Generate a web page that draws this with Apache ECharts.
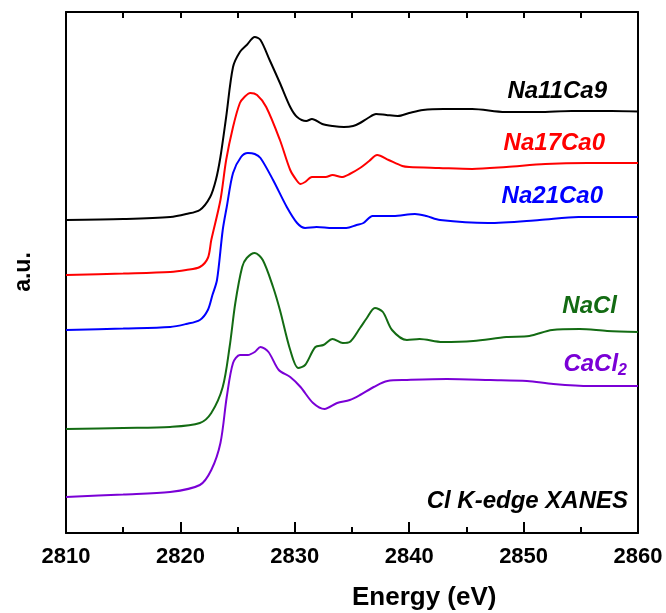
<!DOCTYPE html>
<html>
<head>
<meta charset="utf-8">
<script src="https://cdn.jsdelivr.net/npm/echarts/dist/echarts.min.js"></script>
<style>
  html, body { margin: 0; padding: 0; background: #fff; }
  #chart { width: 666px; height: 613px; }
</style>
</head>
<body>
<div id="chart"></div>
<script>
// X tick labels (eV)
const xTicks = [2810, 2820, 2830, 2840, 2850, 2860];

// Na11Ca9 (black)
const eNa11Ca9 = [2810, 2815, 2819.1, 2820.5, 2821.7, 2822.6, 2823.1, 2823.5, 2824.0, 2824.6, 2825.2, 2825.8, 2826.5, 2827.0, 2827.8, 2828.7, 2829.6, 2830.2, 2831.0, 2831.5, 2832.4, 2833.3, 2834.3, 2835.1, 2835.7, 2836.4, 2837.1, 2838.0, 2839.0, 2840.0, 2841.2, 2843.0, 2845.5, 2848.4, 2851.3, 2854.2, 2857.7, 2860];
const yNa11Ca9 = [313, 314, 316, 319, 323, 336, 353, 376, 416, 466, 481, 488, 496, 493, 473, 450, 426, 416, 412, 414, 409, 407, 406, 407, 410, 415, 419, 418, 417, 420, 423, 424, 424, 421, 421, 422, 422, 421.5];

// Na17Ca0 (red)
const eNa17Ca0 = [2810, 2815, 2819.1, 2820.5, 2821.7, 2822.4, 2822.7, 2823.5, 2824.0, 2824.6, 2825.2, 2825.6, 2826.1, 2826.7, 2827.5, 2828.7, 2829.6, 2830.2, 2830.5, 2830.9, 2831.5, 2832.7, 2833.3, 2834.1, 2834.8, 2835.7, 2836.5, 2837.2, 2838.2, 2839.4, 2840.0, 2842.6, 2845.5, 2848.5, 2851.9, 2855.6, 2860];
const yNa17Ca0 = [258, 259.5, 261, 263, 266, 275, 293, 333, 373, 406, 430, 436, 440, 438, 426, 393, 363, 352, 349, 351, 356, 356, 358, 356, 359, 365, 372, 378, 373, 367, 366, 365, 364, 366, 369, 370, 370];

// Na21Ca0 (blue)
const eNa21Ca0 = [2810, 2815, 2819.1, 2820.5, 2821.7, 2822.4, 2822.8, 2823.2, 2823.7, 2824.05, 2824.6, 2825.3, 2825.9, 2826.5, 2827.0, 2828.1, 2829.3, 2830.2, 2830.9, 2831.9, 2833.3, 2834.5, 2835.4, 2836.0, 2836.8, 2837.4, 2838.6, 2840.5, 2841.5, 2842.7, 2846.9, 2851.4, 2854.8, 2860];
const yNa21Ca0 = [203, 204.5, 206, 209, 213, 223, 238, 253, 303, 326, 360, 376, 380, 379, 375, 353, 326, 310, 305, 306, 305, 305, 308, 310, 317, 317, 317, 319, 317, 313, 310, 313, 316, 316];

// NaCl (green)
const eNaCl = [2810, 2815, 2819.1, 2821.7, 2822.7, 2823.7, 2824.3, 2824.8, 2825.4, 2825.8, 2826.5, 2827.2, 2828.1, 2828.7, 2829.6, 2830.3, 2830.9, 2831.8, 2832.5, 2833.3, 2834.2, 2834.8, 2835.7, 2836.3, 2837.0, 2837.7, 2838.5, 2839.8, 2840.9, 2842.9, 2845.6, 2848.5, 2850.5, 2852.5, 2854.9, 2857.3, 2860];
const yNaCl = [104, 105, 106, 110, 120, 146, 186, 230, 266, 275, 280, 273, 246, 223, 183, 165, 168, 186, 188, 194, 190, 191, 205, 215, 225, 221, 203, 193, 194, 191, 192, 196, 197, 203, 204, 202, 201];

// CaCl2 (purple)
const eCaCl2 = [2810, 2815, 2819.1, 2821.7, 2822.7, 2823.5, 2824.05, 2824.6, 2825.2, 2825.9, 2826.5, 2827.0, 2827.7, 2828.6, 2829.6, 2830.5, 2831.6, 2832.6, 2833.7, 2834.8, 2835.7, 2836.9, 2838.1, 2839.8, 2843.3, 2847.1, 2850.3, 2852.6, 2855.8, 2860];
const yCaCl2 = [36, 38.5, 41, 48, 63, 90, 136, 170, 178, 178, 181, 186, 181, 163, 156, 146, 130, 124, 130, 133, 138, 146, 152, 153, 154, 153, 152, 149, 147, 147];

const seriesNames = ['Na11Ca9', 'Na17Ca0', 'Na21Ca0', 'NaCl', 'CaCl2'];
const seriesColors = ['#000000', '#ff0000', '#0000ff', '#136b13', '#7a00d6'];
const seriesE = [eNa11Ca9, eNa17Ca0, eNa21Ca0, eNaCl, eCaCl2];
const seriesY = [yNa11Ca9, yNa17Ca0, yNa21Ca0, yNaCl, yCaCl2];

const FONT = '"Liberation Sans", Arial, sans-serif';

const chart = echarts.init(document.getElementById('chart'), null, { renderer: 'canvas' });

const series = seriesNames.map((n, i) => ({
  name: n,
  type: 'line',
  xAxisIndex: 0,
  yAxisIndex: 0,
  showSymbol: false,
  smooth: 0.3,
  lineStyle: { color: seriesColors[i], width: 2 },
  itemStyle: { color: seriesColors[i] },
  data: seriesE[i].map((e, k) => [e, seriesY[i][k]])
}));

const labelStyle = (txt, color, right, cy) => ({
  type: 'text',
  right: 666 - right,
  top: cy - 14,
  style: {
    text: txt,
    fill: color,
    font: 'italic bold 24px ' + FONT,
    textAlign: 'right'
  }
});

const option = {
  animation: false,
  backgroundColor: '#ffffff',
  grid: { left: 66, right: 28, top: 12, bottom: 80, containLabel: false },
  xAxis: [
    {
      type: 'value', min: 2810, max: 2860, interval: 10,
      position: 'bottom',
      axisLine: { show: true, onZero: false, lineStyle: { color: '#000', width: 2 } },
      axisTick: { show: true, inside: true, length: 11, lineStyle: { color: '#000', width: 2 } },
      minorTick: { show: true, splitNumber: 2, length: 6, lineStyle: { color: '#000', width: 2 } },
      axisLabel: {
        show: true, margin: 13, color: '#000',
        fontFamily: FONT, fontWeight: 'bold', fontSize: 22,
        formatter: v => (xTicks.indexOf(v) >= 0 ? String(v) : '')
      },
      splitLine: { show: false }
    },
    {
      type: 'value', min: 2810, max: 2860, interval: 5,
      position: 'top',
      axisLine: { show: true, onZero: false, lineStyle: { color: '#000', width: 2 } },
      axisTick: { show: true, inside: true, length: 6, lineStyle: { color: '#000', width: 2 } },
      axisLabel: { show: false },
      splitLine: { show: false }
    }
  ],
  yAxis: [
    {
      type: 'value', min: 0, max: 521,
      position: 'left',
      axisLine: { show: true, onZero: false, lineStyle: { color: '#000', width: 2 } },
      axisTick: { show: false },
      axisLabel: { show: false },
      splitLine: { show: false }
    },
    {
      type: 'value', min: 0, max: 521,
      position: 'right',
      axisLine: { show: true, onZero: false, lineStyle: { color: '#000', width: 2 } },
      axisTick: { show: false },
      axisLabel: { show: false },
      splitLine: { show: false }
    }
  ],
  series: series,
  graphic: [
    labelStyle('Na11Ca9', seriesColors[0], 607, 93),
    labelStyle('Na17Ca0', seriesColors[1], 605, 145),
    labelStyle('Na21Ca0', seriesColors[2], 603, 198),
    labelStyle('NaCl', seriesColors[3], 617, 308),
    {
      type: 'text',
      right: 666 - 627,
      top: 366 - 14,
      style: {
        text: '{m|CaCl}{s|2}',
        rich: {
          m: { font: 'italic bold 24px ' + FONT, fill: seriesColors[4], color: seriesColors[4] },
          s: { font: 'italic bold 16px ' + FONT, fill: seriesColors[4], color: seriesColors[4], padding: [14, 0, 0, 0] }
        },
        textAlign: 'right'
      }
    },
    labelStyle('Cl K-edge XANES', '#000', 628, 503),
    {
      type: 'text',
      left: 352,
      top: 585,
      style: {
        text: 'Energy (eV)',
        fill: '#000',
        font: 'bold 26px ' + FONT,
        textAlign: 'center'
      }
    },
    {
      type: 'text',
      x: 24,
      y: 272,
      rotation: Math.PI / 2,
      style: {
        text: 'a.u.',
        fill: '#000',
        font: 'bold 23px ' + FONT,
        textAlign: 'center',
        textVerticalAlign: 'middle'
      }
    }
  ]
};

chart.setOption(option);
</script>
</body>
</html>
